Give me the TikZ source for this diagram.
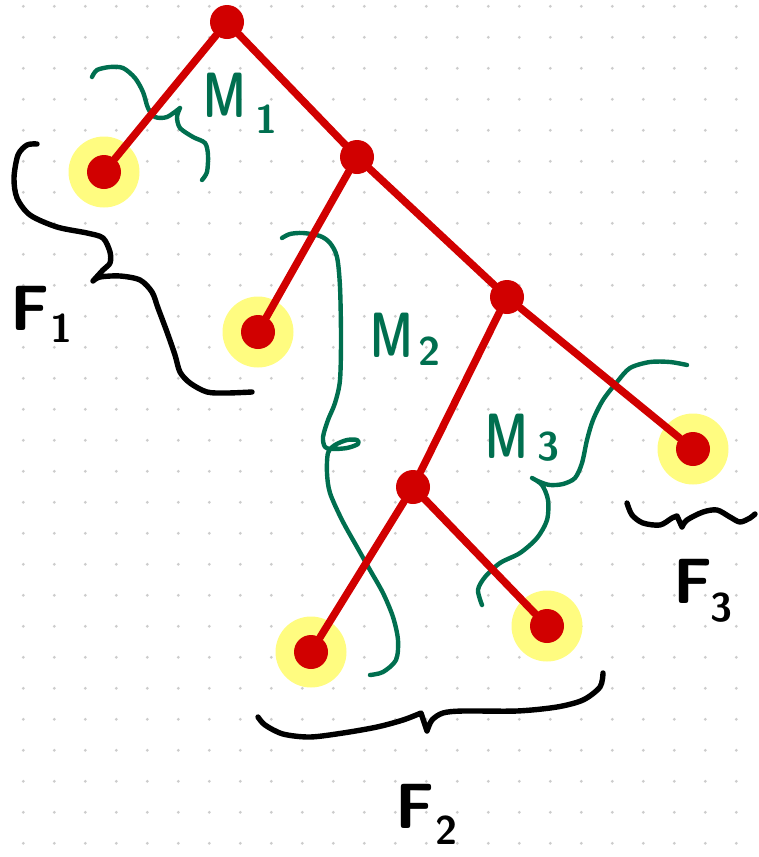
\documentclass[tikz,border=0pt]{standalone}
\usepackage{graphicx}
\usepackage{tikz}
\definecolor{treered}{HTML}{D10000}
\definecolor{leafglow}{HTML}{FFFC80}
\definecolor{massgreen}{HTML}{006F4F}
\newcommand{\handfont}{\sffamily\bfseries\fontsize{64}{64}\selectfont}
\newcommand{\narrowM}{\scalebox{0.68}[1]{M}}
\newcommand{\subnum}[3]{\kern#1\raisebox{-#2}{\fontsize{40}{40}\selectfont#3}}
\tikzset{
  every picture/.append style={line cap=round,line join=round},
  tree edge/.style={treered,line width=7.5pt},
  tree vertex/.style={circle,fill=treered,minimum size=34pt,inner sep=0pt},
  leaf halo/.style={circle,fill=leafglow,minimum size=71pt,inner sep=0pt},
  mass brace/.style={massgreen,line width=4.4pt},
  forest brace/.style={black,line width=5.4pt},
  mass label/.style={massgreen,font=\handfont,anchor=base west,inner sep=0pt},
  forest label/.style={black,font=\handfont,anchor=base west,inner sep=0pt},
  grid dot/.style={fill=black!20}
}

\begin{document}
\begin{tikzpicture}[x=1pt,y=-1pt]
  \useasboundingbox (0,0) rectangle (758,857);
  \foreach \i in {0,...,23}
    \foreach \j in {0,...,27}
      \fill[grid dot] ({23.3+31*\i},{6.3+31*\j}) circle (1.6pt);

  % green braces (pieces that hang off the tree)
  \draw[mass brace] plot[smooth] coordinates {(92,77) (97,70) (110,67) (123,68) (135,78) (143,92) (148,108) (155,117) (167,117) (180,108)}
    plot[smooth] coordinates {(180,108) (177,117) (180,128) (193,137) (205,143) (208,155) (207,172) (202,180)};
  \draw[mass brace] plot[smooth] coordinates {(282,238) (290,234) (303,233) (320,236) (330,243) (337,257) (340,287) (341,337) (340,380) (335,403) (328,420) (323,437) (325,447) (332,449) (347,448) (358,444) (357,440) (347,440) (335,445) (328,453) (327,473) (330,493) (342,520) (357,547) (370,570) (383,593) (393,617) (398,640) (396,660) (383,672) (370,675)};
  \draw[mass brace] plot[smooth] coordinates {(687,365) (670,362) (650,362) (630,368) (617,382) (603,400) (593,420) (587,440) (582,463) (575,478) (563,484) (550,485) (540,482) (532,478)}
    plot[smooth] coordinates {(532,478) (542,485) (548,500) (547,520) (537,538) (520,553) (500,563) (485,577) (478,590) (482,605)};

  % black braces (forests)
  \draw[forest brace] plot[smooth] coordinates {(37,144) (27,145) (18,155) (14,178) (17,198) (30,215) (57,227) (87,233) (103,238) (110,252) (110,263) (103,270) (93,281)}
    plot[smooth] coordinates {(93,281) (100,277) (120,276) (140,280) (152,292) (158,308) (167,332) (175,355) (180,372) (190,383) (207,392) (227,393) (252,392)};
  \draw[forest brace] plot[smooth] coordinates {(258,717) (265,725) (283,734) (310,737) (343,733) (377,727) (403,720) (421,713)}
    -- (427,731)
    plot[smooth] coordinates {(427,731) (432,720) (443,713) (463,711) (517,711) (557,707) (583,700) (600,687) (603,673)};
  \draw[forest brace] plot[smooth] coordinates {(627,503) (632,515) (643,523) (660,525) (672,518) (677,516)}
    -- (682,527)
    plot[smooth] coordinates {(682,527) (687,520) (703,512) (717,510) (730,517) (740,522) (750,518) (755,514)};

  \node[mass label] (m1) at (203,117) {\narrowM\subnum{10pt}{16pt}{1}};
  \node[mass label] (m2) at (370,357) {\narrowM\subnum{6pt}{8pt}{2}};
  \node[mass label] (m3) at (485,458) {\narrowM\subnum{10pt}{2pt}{3}};
  \node[forest label] (f1) at (10,330) {F\subnum{1pt}{12pt}{1}};
  \node[forest label] (f2) at (395,828) {F\subnum{1pt}{16pt}{2}};
  \node[forest label] (f3) at (673,603) {F\subnum{-2pt}{18pt}{3}};

  % the tree
  \node[leaf halo] (halo1) at (104,172) {};
  \node[leaf halo] (halo2) at (258,332) {};
  \node[leaf halo] (halo3) at (693,449) {};
  \node[leaf halo] (halo4) at (311,652) {};
  \node[leaf halo] (halo5) at (547,626) {};
  \node[tree vertex] (root) at (227,22) {};
  \node[tree vertex] (va) at (357,157) {};
  \node[tree vertex] (vb) at (507,297) {};
  \node[tree vertex] (vc) at (413,487) {};
  \foreach \k in {1,...,5}
    \node[tree vertex] (leaf\k) at (halo\k) {};

  \draw[tree edge] (root) -- (leaf1);
  \draw[tree edge] (root) -- (va);
  \draw[tree edge] (va) -- (leaf2);
  \draw[tree edge] (va) -- (vb);
  \draw[tree edge] (vb) -- (leaf3);
  \draw[tree edge] (vb) -- (vc);
  \draw[tree edge] (vc) -- (leaf4);
  \draw[tree edge] (vc) -- (leaf5);
\end{tikzpicture}
\end{document}
